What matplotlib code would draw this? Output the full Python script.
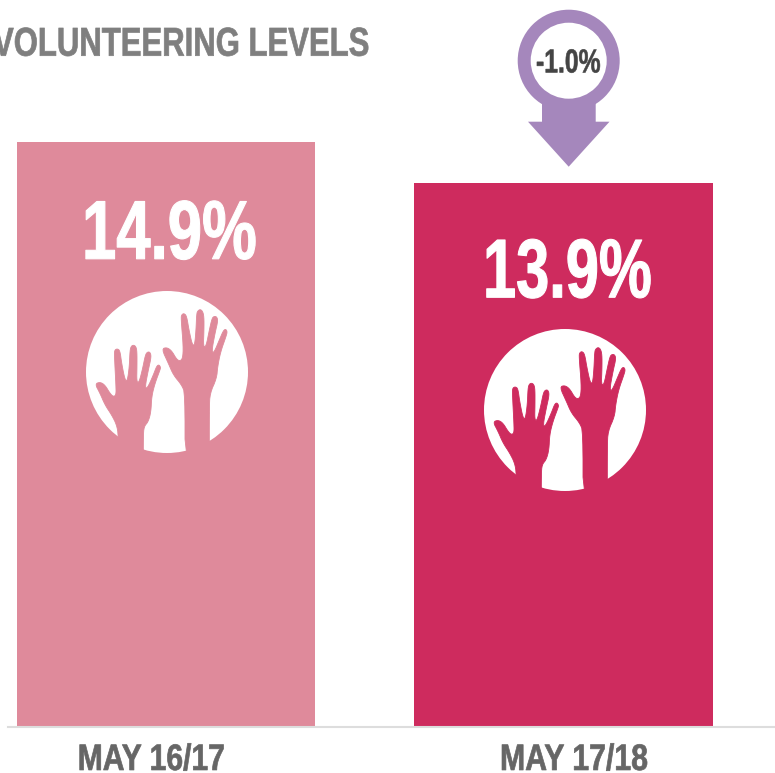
import matplotlib
matplotlib.use("Agg")
import matplotlib.pyplot as plt
from matplotlib.patches import Circle, Polygon
from matplotlib.patheffects import AbstractPathEffect
from matplotlib.transforms import Affine2D

W, H = 775, 773
DPI = 100

title = "VOLUNTEERING LEVELS"
periods = ["MAY 16/17", "MAY 17/18"]
values = [14.9, 13.9]
change_label = "-1.0%"
bar_colors = ["#DF8A9B", "#CE2B5E"]
ARROW = "#A587BC"
GREY = "#666666"
FONT = "Liberation Sans"

LEFT_HAND = [(75,312),(90,306),(105,315),(120,340),(130,350),(138,345),(138,320),(133,225),(134,210),(142,206),(150,212),
             (155,250),(165,300),(172,303),(178,260),(180,210),(184,198),(191,195),(198,200),(201,215),(201,260),(200,305),(207,308),
             (218,265),(226,225),(232,216),(240,216),(244,230),(235,270),(225,322),(232,325),(250,285),(260,258),(267,254),(272,262),
             (270,270),(255,310),(245,350),(243,395),(235,425),(222,440),(220,470),(220,560),(145,560),(145,465),
             (140,435),(125,405),(105,375),(90,340)]
RIGHT_HAND = [(275,207),(290,202),(305,212),(320,238),(330,243),(338,235),(340,200),(333,115),(335,104),(342,100),(350,108),
              (357,150),(367,195),(374,195),(378,150),(380,100),(384,92),(391,88),(398,94),(402,110),(402,150),(400,200),(408,200),
              (418,150),(426,115),(432,109),(440,110),(444,122),(435,160),(425,215),(432,218),(450,175),(460,152),(467,147),(472,155),
              (468,170),(452,215),(443,260),(440,295),(420,340),(418,385),(418,560),(345,560),(345,340),(335,315),
              (310,285),(295,250)]


def smooth(pts, n=2):
    # corner cutting so the silhouette has no sharp corners
    for _ in range(n):
        out = []
        for (x0, y0), (x1, y1) in zip(pts, pts[1:] + pts[:1]):
            out.append((0.75 * x0 + 0.25 * x1, 0.75 * y0 + 0.25 * y1))
            out.append((0.25 * x0 + 0.75 * x1, 0.25 * y0 + 0.75 * y1))
        pts = out
    return pts


class FitX(AbstractPathEffect):
    """Condense a text horizontally to span x0..x1 display pixels and thicken its strokes."""
    def __init__(self, src0, sx, dst0, weight):
        super().__init__()
        self.t = Affine2D().translate(-src0, 0).scale(sx, 1).translate(dst0, 0)
        self.weight = weight

    def draw_path(self, renderer, gc, tpath, affine, rgbFace=None):
        gc0 = renderer.new_gc()
        gc0.copy_properties(gc)
        gc0.set_foreground(rgbFace)
        gc0.set_linewidth(self.weight)
        renderer.draw_path(gc0, tpath, affine + self.t, rgbFace)
        gc0.restore()


fig = plt.figure(figsize=(W / DPI, H / DPI), dpi=DPI, facecolor="white")
rend = fig.canvas.get_renderer()


def fit(text, x0, x1, weight):
    e = text.get_window_extent(rend)
    text.set_path_effects([FitX(e.x0, (x1 - x0) / e.width, x0, weight)])


# data axes: baseline at pixel y=726.5, bars spaced 397.5 px apart
ax_left, ax_right, base_px = 8, 775, 726.5
px_per_unit_y = 41.0
y_floor = 13.9 - (726.5 - 183.3) / px_per_unit_y
px_per_cat = 397.5
ax = fig.add_axes([ax_left / W, (H - base_px) / H, (ax_right - ax_left) / W, base_px / H])
ax.set_xlim((ax_left - 166) / px_per_cat, (ax_right - 166) / px_per_cat)
ax.set_ylim(y_floor, y_floor + base_px / px_per_unit_y)
ax.bar(range(len(values)), values, width=0.7515, color=bar_colors, linewidth=0)
label_centres = [(151.5 - 166) / px_per_cat, (574 - 166) / px_per_cat]
ax.set_xticks(label_centres, periods)
ax.tick_params(axis="x", length=0, pad=31.3, labelsize=26.5, labelcolor=GREY)
ax.set_yticks([])
for s in ["top", "left", "right"]:
    ax.spines[s].set_visible(False)
ax.spines["bottom"].set_color("#DDDDDD")
ax.spines["bottom"].set_linewidth(1.5)
ax.patch.set_alpha(0)
for lab, (x0, x1) in zip(ax.get_xticklabels(), [(77.7, 225), (500, 648)]):
    lab.set_fontfamily(FONT)
    lab.set_fontweight("bold")
    lab.set_verticalalignment("baseline")
    fit(lab, x0, x1, 0.5)

# value labels placed relative to each bar top
for i, (v, drop, span) in enumerate(zip(values, [116.5, 114], [(82, 257), (483, 652)])):
    t = ax.annotate(f"{v:.1f}%", (i, v), xytext=(0, -drop * 72 / DPI), textcoords="offset points",
                    ha="center", va="baseline", color="white", fontsize=60, fontweight="bold", family=FONT)
    fit(t, *span, 0.8)

# overlay in pixel coordinates for the pictograms
ov = fig.add_axes([0, 0, 1, 1])
ov.set_xlim(0, W)
ov.set_ylim(H, 0)
ov.axis("off")
ov.patch.set_alpha(0)

for cx, cy, col in [(167, 372, bar_colors[0]), (565, 410, bar_colors[1])]:
    ov.add_patch(Circle((cx, cy), 81, color="white", lw=0))
    for hand in (LEFT_HAND, RIGHT_HAND):
        pts = [(cx + (x - 291) / 3, cy + (y - 276) / 3) for x, y in smooth(hand)]
        ov.add_patch(Polygon(pts, closed=True, facecolor=col, edgecolor=col, lw=0.6))

ax_cx, ax_cy = 568.7, 60.7
ov.add_patch(Polygon([(542, 95), (595.7, 95), (595.7, 121.7), (609.5, 121.7), (568.7, 166.7),
                      (528, 121.7), (542, 121.7)], closed=True, color=ARROW, lw=0))
ov.add_patch(Circle((ax_cx, ax_cy), 51, color=ARROW, lw=0))
ov.add_patch(Circle((ax_cx, ax_cy), 38, color="white", lw=0))
t = ov.text(568, 72.5, change_label, ha="center", va="baseline", color="#444444",
            fontsize=24, fontweight="bold", family=FONT)
fit(t, 536, 600.7, 0.4)

t = ov.text(180, 55.7, title, ha="center", va="baseline", color="#7F7F7F",
            fontsize=29, fontweight="bold", family=FONT)
fit(t, -7, 369.5, 0.5)

fig.savefig("out.png", dpi=DPI, facecolor="white")
